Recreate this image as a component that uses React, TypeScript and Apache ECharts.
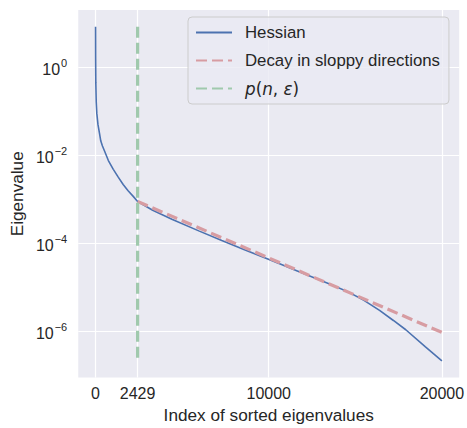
import React, { useEffect, useRef } from "react";
import * as echarts from "echarts";

// Hessian eigenvalue spectrum (index, eigenvalue)
const hessianIndex = [0, 5, 15, 40, 74, 140, 228, 300, 398, 512, 740, 1025, 1310, 1594, 1879, 2163, 2429, 3300, 4440, 5960, 7290, 8600, 9945, 10700, 11650, 13550, 14690, 15500, 16400, 17200, 17915, 19050, 20000];
const hessianValue = [8.51, 1.58, 0.447, 0.162, 0.0891, 0.0501, 0.0316, 0.0214, 0.0164, 0.0127, 0.00762, 0.00481, 0.00319, 0.00217, 0.00156, 0.00118, 0.000891, 0.000562, 0.000347, 0.000191, 0.000115, 0.0000708, 0.0000437, 0.0000331, 0.0000234, 0.0000117, 0.00000741, 0.00000501, 0.00000295, 0.00000174, 0.00000107, 0.000000437, 0.000000209];

// Decay in sloppy directions (straight line in semilog)
const decayIndex = [2429, 20000];
const decayValue = [0.000891, 0.00000093];

// p(n, eps) vertical marker
const pIndex = [2429, 2429];
const pValue = [8.51, 0.000000209];

const xTicks = [0, 2429, 10000, 20000];
const yTicks = [1e-6, 1e-4, 1e-2, 1];

const FONT = "Liberation Sans";
const MATH = "DejaVu Sans";
const TEXT = "#262626";

export default function App() {
  const ref = useRef<HTMLDivElement>(null);
  useEffect(() => {
    if (!ref.current) return;
    const chart = echarts.init(ref.current, null, { renderer: "svg" });
    const zip = (xs: number[], ys: number[]) => xs.map((x, i) => [x, ys[i]]);
    chart.setOption({
      animation: false,
      backgroundColor: "#ffffff",
      textStyle: { fontFamily: FONT, color: TEXT },
      grid: {
        left: 75,
        top: 10,
        right: 7,
        bottom: 43,
        show: true,
        backgroundColor: "#EAEAF2",
        borderWidth: 0,
      },
      legend: {
        orient: "vertical",
        left: 188,
        top: 17,
        align: "left",
        itemWidth: 36,
        itemHeight: 14,
        itemGap: 11,
        padding: [7, 9, 7, 7],
        backgroundColor: "rgba(234,234,242,0.8)",
        borderColor: "#cccccc",
        borderWidth: 1,
        borderRadius: 4,
        itemStyle: { opacity: 0 },
        data: ["Hessian", "Decay in sloppy directions", "p(n, ε)"],
        formatter: (name: string) =>
          name === "p(n, ε)" ? "{i|p}{r|(}{i|n}{r|, }{i|ε}{r|)}" : name,
        textStyle: {
          fontFamily: FONT,
          fontSize: 16.8,
          color: TEXT,
          padding: [0, 0, 0, 8],
          rich: {
            i: { fontStyle: "italic", fontFamily: MATH, fontSize: 16.8, color: TEXT },
            r: { fontFamily: MATH, fontSize: 16.8, color: TEXT },
          },
        },
      },
      xAxis: {
        type: "value",
        min: -1000,
        max: 21000,
        name: "Index of sorted eigenvalues",
        nameLocation: "middle",
        nameGap: 28,
        nameTextStyle: { fontFamily: FONT, fontSize: 17.2, color: TEXT },
        axisLine: { show: false },
        axisTick: { show: false, customValues: xTicks },
        axisLabel: {
          customValues: xTicks,
          margin: 7.5,
          fontFamily: FONT,
          fontSize: 16,
          color: TEXT,
          formatter: (v: number) => String(v),
        },
        splitLine: { show: true, lineStyle: { color: "#ffffff", width: 1.2 } },
      },
      yAxis: {
        type: "log",
        logBase: 10,
        min: Math.pow(10, -7.06),
        max: Math.pow(10, 1.31),
        name: "Eigenvalue",
        nameLocation: "middle",
        nameGap: 48,
        nameTextStyle: { fontFamily: FONT, fontSize: 17.2, color: TEXT },
        axisLine: { show: false },
        axisTick: { show: false, customValues: yTicks },
        axisLabel: {
          customValues: yTicks,
          margin: 11,
          color: TEXT,
          formatter: (v: number) => {
            const e = Math.round(Math.log10(v));
            const sup = e < 0 ? "−" + Math.abs(e) : String(e);
            return "{b|10}{s|" + sup + "}";
          },
          rich: {
            b: { fontFamily: FONT, fontSize: 16, color: TEXT, lineHeight: 20, verticalAlign: "bottom" },
            s: { fontFamily: FONT, fontSize: 11, color: TEXT, lineHeight: 11, padding: [0, 0, 13, 1], verticalAlign: "top" },
          },
        },
        splitLine: { show: true, lineStyle: { color: "#ffffff", width: 1.2 } },
      },
      series: [
        {
          name: "Hessian",
          type: "line",
          data: zip(hessianIndex, hessianValue),
          showSymbol: false,
          symbol: "none",
          smooth: false,
          color: "#4C72B0",
          lineStyle: { color: "#4C72B0", width: 1.6 },
          z: 2,
        },
        {
          name: "Decay in sloppy directions",
          type: "line",
          data: zip(decayIndex, decayValue),
          showSymbol: false,
          symbol: "none",
          color: "#D79CA2",
          lineStyle: { color: "#D79CA2", width: 3.2, type: [11, 5] },
          z: 3,
        },
        {
          name: "p(n, ε)",
          type: "line",
          data: zip(pIndex, pValue),
          showSymbol: false,
          symbol: "none",
          color: "#A0C9AD",
          lineStyle: { color: "#A0C9AD", width: 3.2, type: [11, 5] },
          z: 4,
        },
      ],
    });
    return () => chart.dispose();
  }, []);
  return (
    <div
      ref={ref}
      style={{ position: "fixed", left: 0, top: 0, width: 467, height: 428 }}
    />
  );
}
